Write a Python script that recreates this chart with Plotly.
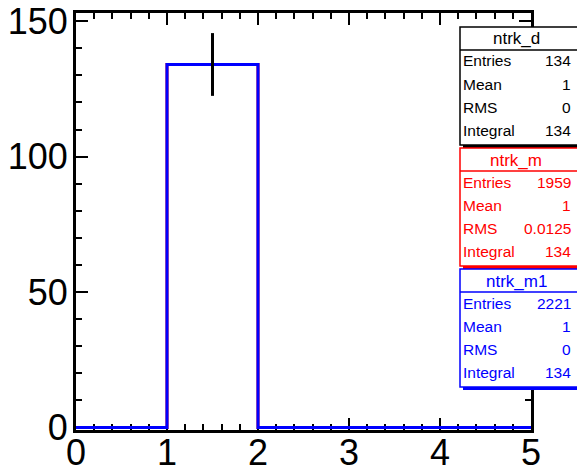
import plotly.graph_objects as go

# ---- data ----
bin_edges = [0, 1, 2, 3, 4, 5]
counts_d = [0, 134, 0, 0, 0]
errors_d = [0, 11.58, 0, 0, 0]
counts_m = [0, 134, 0, 0, 0]
counts_m1 = [0, 134, 0, 0, 0]

stat_names = ["ntrk_d", "ntrk_m", "ntrk_m1"]
stat_colors = ["#000000", "#ff0000", "#0000ff"]
stat_entries = ["134", "1959", "2221"]
stat_mean = ["1", "1", "1"]
stat_rms = ["0", "0.0125", "0"]
stat_integral = ["134", "134", "134"]

x_tickvals = [0, 1, 2, 3, 4, 5]
y_tickvals = [0, 50, 100, 150]

W, H = 577, 472
L, R, T, B = 76, 531, 13, 430


def px(x):
    return (x - L) / (R - L)


def py(y):
    return (B - y) / (B - T)


def step(edges, vals):
    xs, ys = [], []
    for i, v in enumerate(vals):
        xs += [edges[i], edges[i + 1]]
        ys += [v, v]
    return xs, ys


fig = go.Figure()

xs, ys = step(bin_edges, counts_m)
fig.add_trace(go.Scatter(x=xs, y=ys, mode="lines",
                         line=dict(color="#ff0000", width=3), showlegend=False))
xs, ys = step(bin_edges, counts_m1)
fig.add_trace(go.Scatter(x=xs, y=ys, mode="lines",
                         line=dict(color="#0000ff", width=3), showlegend=False))

centers = [(bin_edges[i] + bin_edges[i + 1]) / 2 for i in range(len(counts_d))]
cx = [c for c, v in zip(centers, counts_d) if v > 0]
cy = [v for v in counts_d if v > 0]
ce = [e for e, v in zip(errors_d, counts_d) if v > 0]
fig.add_trace(go.Scatter(x=cx, y=cy, mode="markers",
                         marker=dict(size=1, color="black"),
                         error_y=dict(type="data", array=ce, visible=True,
                                      width=0, thickness=3, color="black"),
                         showlegend=False))

font_family = "Liberation Sans, Arial, sans-serif"

axis_common = dict(showline=True, linewidth=3, linecolor="black", mirror="allticks",
                   ticks="inside", tickcolor="black", tickwidth=1.5,
                   showgrid=False, zeroline=False, layer="below traces", automargin=False,
                   tickfont=dict(family=font_family, size=36, color="black"))

fig.update_xaxes(range=[0, 5], tickvals=x_tickvals, ticklen=12, ticklabelstandoff=-11,
                 minor=dict(dtick=0.2, ticklen=6, ticks="inside", tickcolor="black", tickwidth=1.5),
                 **axis_common)
fig.update_yaxes(range=[-0.9, 153], tickvals=y_tickvals, ticklen=12, ticklabelstandoff=-2,
                 minor=dict(dtick=10, ticklen=6, ticks="inside", tickcolor="black", tickwidth=1.5),
                 **axis_common)

shapes = []
annotations = []
box_tops = [27, 148, 269]
box_h = 118
bx0, bx1 = 460, 582
for i, name in enumerate(stat_names):
    col = stat_colors[i]
    top = box_tops[i]
    bot = top + box_h
    # shadow
    shapes.append(dict(type="rect", xref="paper", yref="paper",
                       x0=px(bx0 + 3), x1=px(bx1 + 3), y0=py(bot + 3), y1=py(top + 3),
                       fillcolor=col, line=dict(width=0), layer="above"))
    shapes.append(dict(type="rect", xref="paper", yref="paper",
                       x0=px(bx0), x1=px(bx1), y0=py(bot), y1=py(top),
                       fillcolor="white", line=dict(color=col, width=1.5), layer="above"))
    shapes.append(dict(type="line", xref="paper", yref="paper",
                       x0=px(bx0), x1=px(bx1), y0=py(top + 23), y1=py(top + 23),
                       line=dict(color=col, width=1.5), layer="above"))
    annotations.append(dict(xref="paper", yref="paper", x=px(516), y=py(top + 12),
                            text=name, showarrow=False, xanchor="center", yanchor="middle",
                            font=dict(family=font_family, size=17, color=col)))
    rows = [("Entries", stat_entries[i]), ("Mean", stat_mean[i]),
            ("RMS", stat_rms[i]), ("Integral", stat_integral[i])]
    for j, (lab, val) in enumerate(rows):
        yy = top + 34 + j * 23
        annotations.append(dict(xref="paper", yref="paper", x=px(461), y=py(yy),
                                text=lab, showarrow=False, xanchor="left", yanchor="middle",
                                font=dict(family=font_family, size=15.5, color=col)))
        annotations.append(dict(xref="paper", yref="paper", x=px(573), y=py(yy),
                                text=val, showarrow=False, xanchor="right", yanchor="middle",
                                font=dict(family=font_family, size=15.5, color=col)))

fig.update_layout(width=W, height=H, margin=dict(l=L, r=W - R, t=T, b=H - B),
                  paper_bgcolor="white", plot_bgcolor="white",
                  shapes=shapes, annotations=annotations, showlegend=False)

fig.write_html("out.html", config={"displayModeBar": False},
               post_script="document.body.style.margin='0px';document.body.style.overflow='hidden';")
